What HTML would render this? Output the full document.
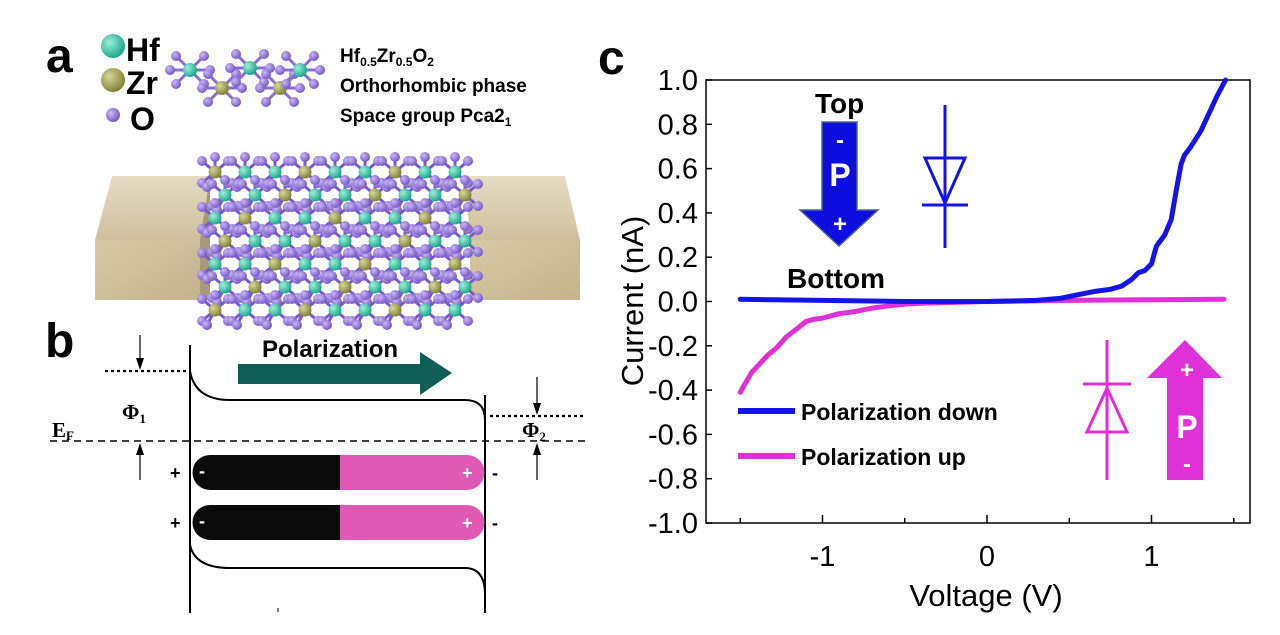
<!DOCTYPE html>
<html><head><meta charset="utf-8">
<style>
body{margin:0;background:#fff;width:1280px;height:635px;overflow:hidden;font-family:"Liberation Sans",sans-serif}
svg{position:absolute;left:0;top:0}
.b{font-family:"Liberation Sans",sans-serif;font-weight:bold}
</style></head><body>
<svg width="1280" height="635" viewBox="0 0 1280 635">
<defs>
<linearGradient id="gold" x1="0" y1="0" x2="1" y2="1"><stop offset="0" stop-color="#d8c9a6"/><stop offset="1" stop-color="#c4b38d"/></linearGradient>
<linearGradient id="goldT" x1="0" y1="0" x2="0" y2="1"><stop offset="0" stop-color="#e6dcc4"/><stop offset="1" stop-color="#cfc09e"/></linearGradient>
<radialGradient id="hf" cx="0.35" cy="0.35" r="0.7"><stop offset="0" stop-color="#9ff0d8"/><stop offset="1" stop-color="#15a48a"/></radialGradient>
<radialGradient id="zr" cx="0.35" cy="0.35" r="0.7"><stop offset="0" stop-color="#d6d89a"/><stop offset="1" stop-color="#7d7e32"/></radialGradient>
<radialGradient id="ox" cx="0.35" cy="0.35" r="0.7"><stop offset="0" stop-color="#c9b8f5"/><stop offset="1" stop-color="#7454c4"/></radialGradient>
</defs>
<!-- panel a -->
<text x="46" y="72" class="b" font-size="48">a</text>
<circle cx="113" cy="46" r="12" fill="url(#hf)"/>
<text x="126" y="61" class="b" font-size="32">Hf</text>
<circle cx="113" cy="80" r="12" fill="url(#zr)"/>
<text x="126" y="94" class="b" font-size="32">Zr</text>
<circle cx="113" cy="115" r="7" fill="url(#ox)"/>
<text x="130" y="130" class="b" font-size="32">O</text>
<g id="unitcell"></g>
<text x="340" y="62" class="b" font-size="19">Hf<tspan font-size="12" dy="4">0.5</tspan><tspan dy="-4">Zr</tspan><tspan font-size="12" dy="4">0.5</tspan><tspan dy="-4">O</tspan><tspan font-size="12" dy="4">2</tspan></text>
<text x="340" y="92" class="b" font-size="19">Orthorhombic phase</text>
<text x="340" y="122" class="b" font-size="19">Space group Pca2<tspan font-size="12" dy="4">1</tspan></text>
<g>
<polygon points="112,176 210,176 210,240 95,240" fill="url(#goldT)"/>
<polygon points="95,240 200,240 200,300 95,300" fill="url(#gold)"/>
<polygon points="200,240 210,176 210,300 200,300" fill="#a89a78"/>
</g>
<g>
<polygon points="465,176 565,176 580,240 470,240" fill="url(#goldT)"/>
<polygon points="470,240 580,240 580,300 470,300" fill="url(#gold)"/>
</g>
<g id="crystal"></g>
<!-- panel b -->
<text x="45" y="357" class="b" font-size="48">b</text>
<g fill="none" stroke="#000" stroke-width="2">
<line x1="190" y1="345" x2="190" y2="613"/>
<line x1="485" y1="395" x2="485" y2="613"/>
<line x1="50" y1="441" x2="585" y2="441" stroke-dasharray="7,5" stroke-width="1.6"/>
<line x1="105" y1="371" x2="190" y2="371" stroke-dasharray="3,3" stroke-width="2.2"/>
<line x1="490" y1="416" x2="585" y2="416" stroke-dasharray="3,3" stroke-width="2.2"/>
<path d="M190,371 Q195,400 230,400 L465,400 Q485,400 485,420"/>
<path d="M190,545 Q195,568 230,568 L465,568 Q485,568 485,595"/>
<line x1="140" y1="335" x2="140" y2="368" stroke-width="1.2"/>
<polygon points="136,358 144,358 140,370" fill="#000" stroke="none"/>
<line x1="140" y1="445" x2="140" y2="480" stroke-width="1.2"/>
<polygon points="136,455 144,455 140,443" fill="#000" stroke="none"/>
<line x1="537" y1="377" x2="537" y2="413" stroke-width="1.2"/>
<polygon points="533,403 541,403 537,415" fill="#000" stroke="none"/>
<line x1="537" y1="445" x2="537" y2="480" stroke-width="1.2"/>
<polygon points="533,455 541,455 537,443" fill="#000" stroke="none"/>
<line x1="278" y1="608" x2="278" y2="612" stroke-width="1"/>
</g>
<text x="122" y="419" font-family="Liberation Serif,serif" font-weight="bold" font-size="21">Φ<tspan font-size="13" dy="4">1</tspan></text>
<text x="52" y="437" font-family="Liberation Serif,serif" font-weight="bold" font-size="21">E<tspan font-size="13" dy="3">F</tspan></text>
<text x="522" y="437" font-family="Liberation Serif,serif" font-weight="bold" font-size="21">Φ<tspan font-size="13" dy="4">2</tspan></text>
<text x="262" y="357" class="b" font-size="24">Polarization</text>
<polygon points="238,364 420,364 420,352 452,373 420,395 420,384 238,384" fill="#0e5e55"/>
<g>
<path d="M210,455 L340,455 L340,490 L210,490 A17.5,17.5 0 0 1 210,455Z" fill="#0b0b0b"/>
<path d="M340,455 L467,455 A17.5,17.5 0 0 1 467,490 L340,490Z" fill="#e05ab5"/>
<text x="199" y="477" fill="#fff" font-size="18" class="b">-</text>
<text x="462" y="479" fill="#fff" font-size="18" class="b">+</text>
<text x="170" y="479" font-size="18" class="b">+</text>
<text x="492" y="479" font-size="18" class="b">-</text>
</g>
<g>
<path d="M210,505 L340,505 L340,540 L210,540 A17.5,17.5 0 0 1 210,505Z" fill="#0b0b0b"/>
<path d="M340,505 L467,505 A17.5,17.5 0 0 1 467,540 L340,540Z" fill="#e05ab5"/>
<text x="199" y="527" fill="#fff" font-size="18" class="b">-</text>
<text x="462" y="529" fill="#fff" font-size="18" class="b">+</text>
<text x="170" y="529" font-size="18" class="b">+</text>
<text x="492" y="529" font-size="18" class="b">-</text>
</g>
<!-- panel c -->
<text x="598" y="74" class="b" font-size="48">c</text>
<g id="chart"></g>
</svg>
<script>
const NS='http://www.w3.org/2000/svg';
function mk(t,a,p){const e=document.createElementNS(NS,t);for(const k in a)e.setAttribute(k,a[k]);p.appendChild(e);return e;}
// decorative crystal
(function(){
 const g=document.getElementById('crystal');
 for(let r=0;r<7;r++)for(let c=0;c<9;c++){
  const x=215+c*30+(r%2)*10, y=172+r*23;
  [[-13,-11],[13,-11],[-13,11],[13,11],[0,-15],[-8,15]].forEach(d=>{mk('line',{x1:x,y1:y,x2:x+d[0],y2:y+d[1],stroke:'#7a58cf','stroke-width':3},g);});
 }
 for(let r=0;r<7;r++)for(let c=0;c<9;c++){
  const x=215+c*30+(r%2)*10, y=172+r*23;
  const col=(r+c)%3==0?'url(#zr)':'url(#hf)';
  [[-13,-11],[13,-11],[-13,11],[13,11],[0,-15],[-8,15]].forEach(d=>{mk('circle',{cx:x+d[0],cy:y+d[1],r:5,fill:'url(#ox)'},g);});
  mk('circle',{cx:x,cy:y,r:6.5,fill:col},g);
 }
 const u=document.getElementById('unitcell');
 [[190,70],[222,88],[250,68],[280,88],[300,70]].forEach((p,i)=>{
  [[-14,-14],[14,-14],[-14,14],[14,14],[-20,0],[20,0]].forEach(d=>{mk('line',{x1:p[0],y1:p[1],x2:p[0]+d[0],y2:p[1]+d[1],stroke:'#8a6ad8','stroke-width':3},u);mk('circle',{cx:p[0]+d[0],cy:p[1]+d[1],r:5,fill:'url(#ox)'},u);});
  mk('circle',{cx:p[0],cy:p[1],r:7,fill:i%2?'url(#zr)':'url(#hf)'},u);
 });
})();

// chart data
const xTicks=[-1,0,1];
const yTicks=[1.0,0.8,0.6,0.4,0.2,0.0,-0.2,-0.4,-0.6,-0.8,-1.0];
const downV=[-1.5,-1.0,-0.5,0,0.3,0.45,0.55,0.65,0.75,0.82,0.88,0.92,0.96,1.0,1.03,1.06,1.08,1.12,1.15,1.18,1.2,1.24,1.3,1.35,1.4,1.45];
const downI=[0.01,0.005,0.0,0.0,0.005,0.015,0.03,0.045,0.055,0.07,0.1,0.13,0.14,0.17,0.25,0.28,0.3,0.37,0.5,0.62,0.66,0.7,0.77,0.85,0.93,1.0];
const upV=[-1.5,-1.47,-1.43,-1.38,-1.33,-1.28,-1.22,-1.15,-1.1,-1.05,-1.0,-0.9,-0.8,-0.7,-0.6,-0.5,-0.4,-0.2,0,0.5,1.0,1.44];
const upI=[-0.41,-0.37,-0.32,-0.28,-0.24,-0.21,-0.16,-0.12,-0.09,-0.08,-0.075,-0.055,-0.045,-0.03,-0.02,-0.012,-0.008,-0.004,0,0.005,0.008,0.01];
const X0=706,X1=1250,Y0=80,Y1=523;
const xs=v=>987+v*164.5;
const ys=v=>301.5-v*221.5;
const ch=document.getElementById('chart');
let e=mk('rect',{x:X0,y:Y0,width:X1-X0,height:Y1-Y0,fill:'none',stroke:'#000','stroke-width':1.5},ch);


yTicks.forEach(v=>{
 mk('line',{x1:X0,x2:X0+6,y1:ys(v),y2:ys(v),stroke:'#000','stroke-width':1.5},ch);
 const t=mk('text',{x:X0-8,y:ys(v)+10,'text-anchor':'end','font-size':29,fill:'#000'},ch);
 t.textContent=v.toFixed(1);
 
 
});
[-1.5,-1,-0.5,0,0.5,1,1.5].forEach(v=>mk('line',{x1:xs(v),x2:xs(v),y1:Y1,y2:Y1-(Number.isInteger(v)?8:5),stroke:'#000','stroke-width':1.5},ch));
xTicks.forEach(v=>{
 const t=mk('text',{x:xs(v),y:566,'text-anchor':'middle','font-size':29,fill:'#000'},ch);
 t.textContent=String(v);
 
 
});
let t=mk('text',{x:986,y:606,'text-anchor':'middle','font-size':31},ch);t.textContent='Voltage (V)';


t=mk('text',{x:0,y:0,'text-anchor':'middle','font-size':31,transform:'translate(643,301) rotate(-90)'},ch);t.textContent='Current (nA)';


function line(V,I,col,name){
 const p=mk('polyline',{points:V.map((v,i)=>xs(v)+','+ys(I[i])).join(' '),fill:'none',stroke:col,'stroke-width':5,'stroke-linejoin':'round','stroke-linecap':'round'},ch);
 
 
}
line(upV,upI,'#e030d8','series-polarization-up');
line(downV,downI,'#1414e6','series-polarization-down');
</script>
<svg width="1280" height="635" viewBox="0 0 1280 635" style="pointer-events:none">
<g>
<line x1="738" y1="411" x2="795" y2="411" stroke="#1414e6" stroke-width="6"/>
<text x="801" y="420" class="b" font-size="23">Polarization down</text>
<line x1="738" y1="456" x2="795" y2="456" stroke="#e030d8" stroke-width="6"/>
<text x="801" y="465" class="b" font-size="23">Polarization up</text>
</g>
<text x="815" y="113" class="b" font-size="28">Top</text>
<text x="787" y="288" class="b" font-size="28">Bottom</text>
<g>
<polygon points="822,122 857,122 857,210 878,210 839,246 800,210 822,210" fill="#0d0de0" stroke="#4a6a8a" stroke-width="1.5"/>
<text x="840" y="148" fill="#fff" class="b" font-size="24" text-anchor="middle">-</text>
<text x="840" y="186" fill="#fff" class="b" font-size="32" text-anchor="middle">P</text>
<text x="840" y="232" fill="#fff" class="b" font-size="24" text-anchor="middle">+</text>
</g>
<g stroke="#1414e6" stroke-width="3" fill="none">
<line x1="945" y1="105" x2="945" y2="248"/>
<polygon points="925,158 965,158 945,203"/>
<line x1="922" y1="205" x2="968" y2="205"/>
</g>
<g stroke="#e030d8" stroke-width="3" fill="none">
<line x1="1107" y1="340" x2="1107" y2="480"/>
<line x1="1083" y1="384" x2="1131" y2="384"/>
<polygon points="1107,388 1087,432 1127,432"/>
</g>
<g>
<polygon points="1167,480 1203,480 1203,378 1222,378 1185,340 1147,378 1167,378" fill="#e030d8"/>
<text x="1187" y="378" fill="#fff" class="b" font-size="24" text-anchor="middle">+</text>
<text x="1187" y="438" fill="#fff" class="b" font-size="32" text-anchor="middle">P</text>
<text x="1187" y="472" fill="#fff" class="b" font-size="24" text-anchor="middle">-</text>
</g>
</svg>
</body></html>
